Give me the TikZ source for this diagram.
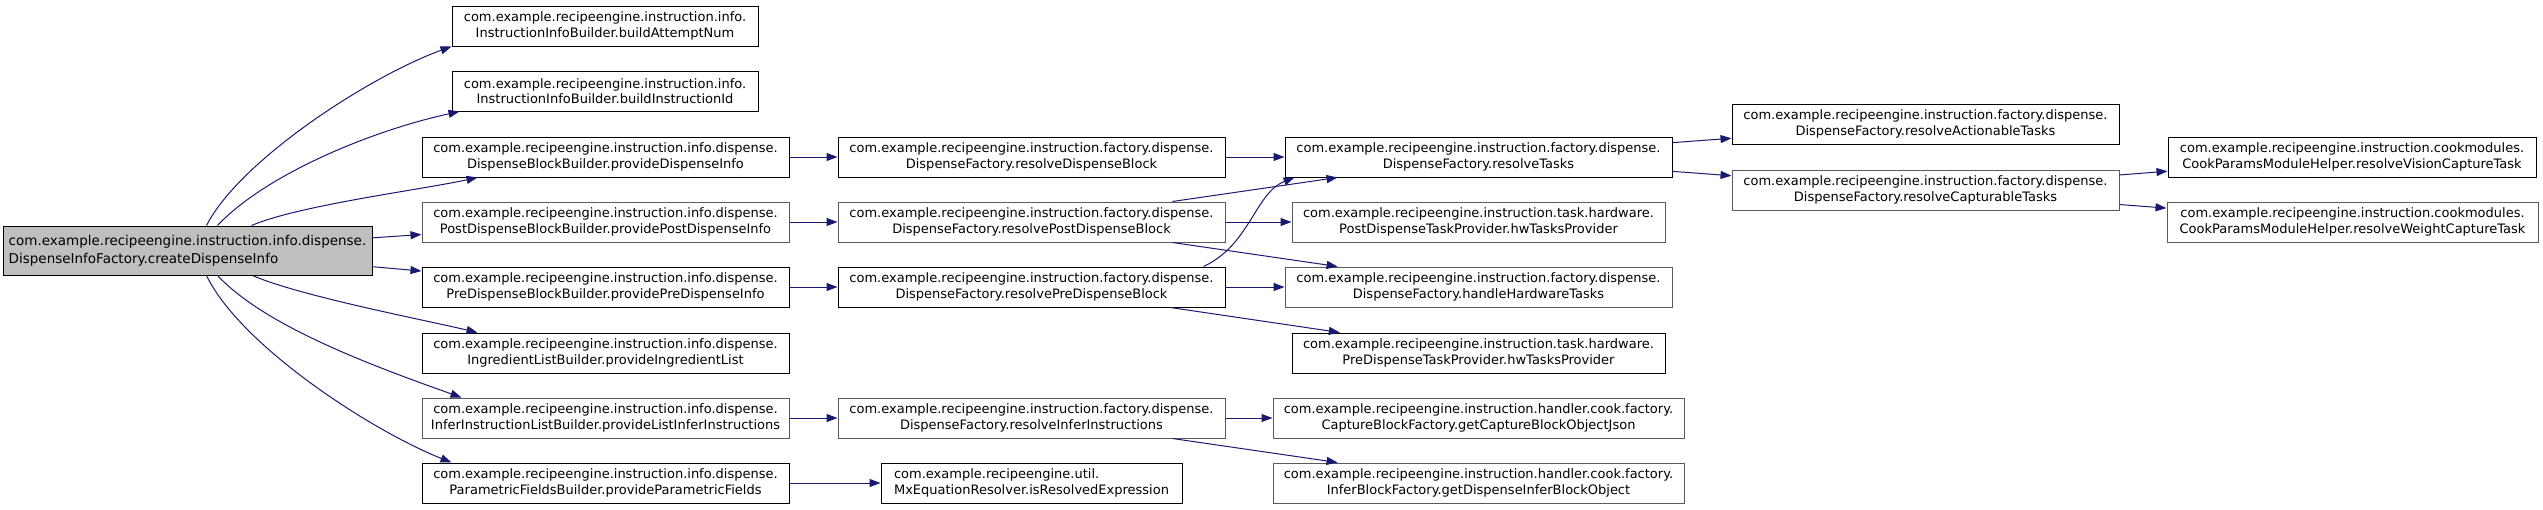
\documentclass[tikz,border=0pt]{standalone}
\usepackage{fontspec}
\setmainfont{DejaVu Sans}
\usetikzlibrary{arrows.meta}
\definecolor{edgeBlue}{HTML}{191970}
\definecolor{rootGray}{HTML}{BFBFBF}
\definecolor{boxGray}{HTML}{5A5A5A}
\tikzset{
  fn/.style={draw=black, line width=1pt, fill=white, minimum height=40pt,
    inner sep=0pt, align=center, font=\fontsize{13}{15.5}\selectfont},
  fnl/.style={fn, draw=boxGray},
  call/.style={edgeBlue, line width=1pt, -{Triangle[length=11pt,width=8pt]}},
}

\begin{document}
\begin{tikzpicture}[x=1pt,y=-1pt]
  \useasboundingbox (0,0) rectangle (2543,509);

  % root
  \node[fn, fill=rootGray, minimum width=369pt, minimum height=49pt, align=left,
    font=\fontsize{13.5}{18}\selectfont] (main) at (187.5,250.5)
    {com.example.recipeengine.instruction.info.dispense.\\DispenseInfoFactory.createDispenseInfo};

  % builders
  \node[fn, minimum width=306pt] (attempt) at (605,26)
    {com.example.recipeengine.instruction.info.\\InstructionInfoBuilder.buildAttemptNum};
  \node[fn, minimum width=306pt] (instrId) at (605,91)
    {com.example.recipeengine.instruction.info.\\InstructionInfoBuilder.buildInstructionId};
  \node[fn, minimum width=367pt] (dispBB) at (605.5,157)
    {com.example.recipeengine.instruction.info.dispense.\\DispenseBlockBuilder.provideDispenseInfo};
  \node[fnl, minimum width=367pt] (postBB) at (605.5,222)
    {com.example.recipeengine.instruction.info.dispense.\\PostDispenseBlockBuilder.providePostDispenseInfo};
  \node[fn, minimum width=367pt] (preBB) at (605.5,287)
    {com.example.recipeengine.instruction.info.dispense.\\PreDispenseBlockBuilder.providePreDispenseInfo};
  \node[fn, minimum width=367pt] (ingr) at (605.5,353)
    {com.example.recipeengine.instruction.info.dispense.\\IngredientListBuilder.provideIngredientList};
  \node[fnl, minimum width=367pt] (inferBB) at (605.5,418)
    {com.example.recipeengine.instruction.info.dispense.\\InferInstructionListBuilder.provideListInferInstructions};
  \node[fn, minimum width=367pt] (param) at (605.5,483)
    {com.example.recipeengine.instruction.info.dispense.\\ParametricFieldsBuilder.provideParametricFields};

  % factory
  \node[fn, minimum width=387pt] (resDisp) at (1031.5,157)
    {com.example.recipeengine.instruction.factory.dispense.\\DispenseFactory.resolveDispenseBlock};
  \node[fnl, minimum width=387pt] (resPost) at (1031.5,222)
    {com.example.recipeengine.instruction.factory.dispense.\\DispenseFactory.resolvePostDispenseBlock};
  \node[fn, minimum width=387pt] (resPre) at (1031.5,287)
    {com.example.recipeengine.instruction.factory.dispense.\\DispenseFactory.resolvePreDispenseBlock};
  \node[fnl, minimum width=387pt] (resInfer) at (1031.5,418)
    {com.example.recipeengine.instruction.factory.dispense.\\DispenseFactory.resolveInferInstructions};
  \node[fn, minimum width=301pt, align=left] (mx) at (1031.5,483)
    {com.example.recipeengine.util.\\MxEquationResolver.isResolvedExpression};

  % tasks and handlers
  \node[fn, minimum width=387pt] (resTasks) at (1478.5,157)
    {com.example.recipeengine.instruction.factory.dispense.\\DispenseFactory.resolveTasks};
  \node[fnl, minimum width=373pt] (postProv) at (1478.5,222)
    {com.example.recipeengine.instruction.task.hardware.\\PostDispenseTaskProvider.hwTasksProvider};
  \node[fnl, minimum width=387pt] (handleHW) at (1478.5,287)
    {com.example.recipeengine.instruction.factory.dispense.\\DispenseFactory.handleHardwareTasks};
  \node[fn, minimum width=373pt] (preProv) at (1478.5,353)
    {com.example.recipeengine.instruction.task.hardware.\\PreDispenseTaskProvider.hwTasksProvider};
  \node[fnl, minimum width=411pt] (capture) at (1478.5,418)
    {com.example.recipeengine.instruction.handler.cook.factory.\\CaptureBlockFactory.getCaptureBlockObjectJson};
  \node[fnl, minimum width=411pt] (inferBF) at (1478.5,483)
    {com.example.recipeengine.instruction.handler.cook.factory.\\InferBlockFactory.getDispenseInferBlockObject};

  \node[fn, minimum width=387pt] (actionable) at (1925.5,124)
    {com.example.recipeengine.instruction.factory.dispense.\\DispenseFactory.resolveActionableTasks};
  \node[fnl, minimum width=387pt] (capturable) at (1925.5,190)
    {com.example.recipeengine.instruction.factory.dispense.\\DispenseFactory.resolveCapturableTasks};

  \node[fn, minimum width=368pt] (vision) at (2352,157)
    {com.example.recipeengine.instruction.cookmodules.\\CookParamsModuleHelper.resolveVisionCaptureTask};
  \node[fnl, minimum width=371pt] (weight) at (2352.5,222)
    {com.example.recipeengine.instruction.cookmodules.\\CookParamsModuleHelper.resolveWeightCaptureTask};

  % calls from the root
  \draw[call] ([xshift=204pt]main.north west) .. controls (240,160) and (370,76) .. (attempt.south west);
  \draw[call] ([xshift=215pt]main.north west) .. controls (265,175) and (370,131) .. ([xshift=8pt]instrId.south west);
  \draw[call] ([xshift=249pt]main.north west) .. controls (300,205) and (420,190) .. ([xshift=56pt]dispBB.south west);
  \draw[call] (main) -- (postBB);
  \draw[call] (main) -- (preBB);
  \draw[call] ([xshift=250pt]main.south west) .. controls (300,296) and (420,319) .. ([xshift=56pt]ingr.north west);
  \draw[call] ([xshift=215pt]main.south west) .. controls (265,326) and (370,365) .. ([xshift=40pt]inferBB.north west);
  \draw[call] ([xshift=204pt]main.south west) .. controls (240,345) and (370,430) .. ([xshift=30pt]param.north west);

  % builders to factory
  \draw[call] (dispBB) -- (resDisp);
  \draw[call] (postBB) -- (resPost);
  \draw[call] (preBB) -- (resPre);
  \draw[call] (inferBB) -- (resInfer);
  \draw[call] (param) -- (mx);

  % factory to tasks
  \draw[call] (resDisp) -- (resTasks);
  \draw[call] (resPost) -- (resTasks);
  \draw[call] (resPost) -- (postProv);
  \draw[call] (resPost) -- (handleHW);
  \draw[call] ([xshift=-22pt]resPre.north east) .. controls (1250,245) and (1255,193) .. ([xshift=10pt]resTasks.south west);
  \draw[call] (resPre) -- (handleHW);
  \draw[call] (resPre) -- (preProv);
  \draw[call] (resInfer) -- (capture);
  \draw[call] (resInfer) -- (inferBF);

  \draw[call] (resTasks) -- (actionable);
  \draw[call] (resTasks) -- (capturable);
  \draw[call] (capturable) -- (vision);
  \draw[call] (capturable) -- (weight);
\end{tikzpicture}
\end{document}
